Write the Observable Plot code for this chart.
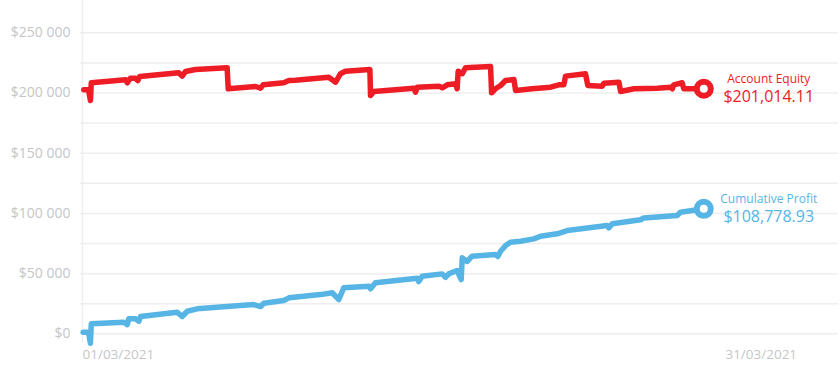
<!DOCTYPE html>
<html>
<head>
<meta charset="utf-8">
<script src="https://cdn.jsdelivr.net/npm/d3@7"></script>
<script src="https://cdn.jsdelivr.net/npm/@observablehq/plot@0.6"></script>
<style>
  html, body { margin: 0; padding: 0; background: #ffffff; }
  #chart svg { display: block; }
</style>
</head>
<body>
<div id="chart"></div>
<script>
// Days since 01/03/2021 (fractional) and values
const equityDays = [0.06,0.28,0.37,0.41,2.01,2.09,2.24,2.47,2.58,2.67,4.49,4.65,4.81,5.27,6.75,6.80,8.07,8.31,8.43,9.39,9.63,9.94,11.49,11.81,12.04,12.27,13.41,13.44,13.59,15.46,15.54,15.62,16.63,16.79,17.02,17.41,17.48,17.53,17.72,17.87,19.04,19.09,19.27,19.51,19.74,20.13,20.21,20.98,21.84,22.23,22.46,22.54,23.47,23.58,24.25,24.33,25.03,25.11,25.73,26.82,27.44,27.52,27.59,27.98,28.06,28.99];
const equityValues = [202700,202700,193800,208500,211000,208500,212300,212300,210400,213700,216800,214000,217900,219500,220900,203500,205400,204000,206800,208500,210400,210600,213100,209000,216000,218100,219500,197900,201300,204000,200700,204800,205700,204300,206800,207700,203500,218100,216000,220900,222000,200200,203500,206200,210400,211200,202100,203500,204800,206800,206800,214000,216000,206200,205700,208100,209000,201300,203500,204000,204800,203500,206800,208500,203500,203500];

const profitDays = [0.03,0.28,0.37,0.41,1.93,2.09,2.16,2.47,2.63,2.71,4.42,4.65,4.89,5.35,7.99,8.31,8.46,9.39,9.63,11.11,11.65,11.96,12.19,13.36,13.44,13.67,15.62,15.69,15.85,16.78,16.94,17.09,17.48,17.67,17.72,17.95,18.18,19.27,19.38,19.51,19.74,19.97,20.44,21.06,21.37,22.15,22.62,24.48,24.56,24.72,26.04,26.19,27.75,27.90,28.45,28.99];
const profitValues = [1300,1300,-7800,8300,9600,7700,12500,12500,10500,14400,17900,14400,18800,20800,24300,22700,25400,27700,29900,32600,34100,28500,38200,39500,37400,42400,46200,43400,47800,49800,47000,49800,52600,45100,63100,60100,64500,65900,64200,68600,73300,76100,76900,78900,81100,83100,85800,90000,88000,91400,94700,96300,98300,101000,102400,103800];

const seriesNames = ["Account Equity", "Cumulative Profit"];
const seriesLabels = ["$201,014.11", "$108,778.93"];
const seriesColors = ["#ee1c25", "#56b5e5"];

const yTicks = [0, 50000, 100000, 150000, 200000, 250000];
const yTickLabels = ["$0", "$50 000", "$100 000", "$150 000", "$200 000", "$250 000"];
const yGrid = [0, 25000, 50000, 75000, 100000, 125000, 150000, 175000, 200000, 225000, 250000];
const xTicks = [0, 30];
const xTickLabels = ["01/03/2021", "31/03/2021"];

const equity = equityDays.map((d, i) => ({day: d, value: equityValues[i]}));
const profit = profitDays.map((d, i) => ({day: d, value: profitValues[i]}));
const ends = [
  {day: equityDays[equityDays.length - 1], value: equityValues[equityValues.length - 1], name: seriesNames[0], label: seriesLabels[0], color: seriesColors[0]},
  {day: profitDays[profitDays.length - 1], value: profitValues[profitValues.length - 1], name: seriesNames[1], label: seriesLabels[1], color: seriesColors[1]}
];

const gridColor = "#eeeeee";
const labelColor = "#c6c6c6";

const chart = Plot.plot({
  width: 840,
  height: 383,
  marginLeft: 82,
  marginRight: 0,
  marginTop: 0,
  marginBottom: 40,
  style: {fontFamily: "'Open Sans', sans-serif", background: "#ffffff", overflow: "visible"},
  x: {type: "linear", domain: [0, 35.37]},
  y: {type: "linear", domain: [-8000, 276800]},
  marks: [
    Plot.ruleY(yGrid, {stroke: gridColor, strokeWidth: 1.5, dx: -2}),
    Plot.ruleX([0], {stroke: gridColor, strokeWidth: 1.5}),
    Plot.axisY({
      ticks: yTicks,
      tickSize: 0,
      tickPadding: 12,
      tickFormat: (d) => yTickLabels[yTicks.indexOf(d)],
      fontSize: 14,
      fill: labelColor,
      label: null
    }),
    Plot.axisX({
      ticks: xTicks,
      tickSize: 0,
      tickPadding: 6,
      tickFormat: (d) => xTickLabels[xTicks.indexOf(d)],
      textAnchor: "start",
      fontSize: 13.5,
      fill: labelColor,
      label: null
    }),
    Plot.line(equity, {x: "day", y: "value", stroke: seriesColors[0], strokeWidth: 5.5, strokeLinejoin: "round", strokeLinecap: "round"}),
    Plot.line(profit, {x: "day", y: "value", stroke: seriesColors[1], strokeWidth: 5.5, strokeLinejoin: "round", strokeLinecap: "round"}),
    Plot.dot(ends, {x: "day", y: "value", r: 7, stroke: "color", strokeWidth: 6, fill: "#ffffff"}),
    Plot.text(ends, {x: "day", y: "value", text: "name", fill: "color", textAnchor: "middle", dx: 65, dy: -10, fontSize: 12, lineAnchor: "middle"}),
    Plot.text(ends, {x: "day", y: "value", text: "label", fill: "color", textAnchor: "middle", dx: 65, dy: 8, fontSize: 16, lineAnchor: "middle"})
  ]
});
document.getElementById("chart").appendChild(chart);
</script>
</body>
</html>
